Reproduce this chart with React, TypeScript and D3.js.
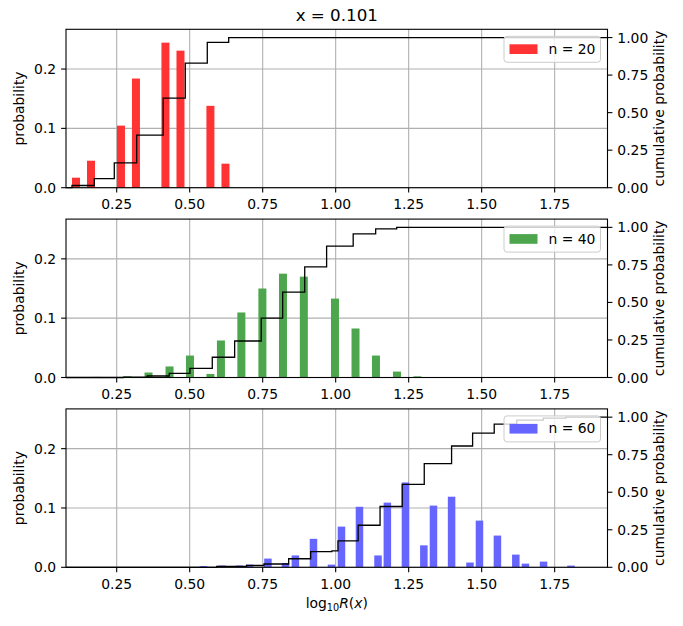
import React, { useEffect, useRef } from 'react';
import * as d3 from 'd3';

// bar centres (log10 R) and probabilities
const barX20 = [0.1106, 0.162, 0.2647, 0.316, 0.417, 0.4685, 0.571, 0.6226];
const barP20 = [0.0169, 0.0455, 0.1046, 0.184, 0.2445, 0.231, 0.138, 0.0405];

const barX40 = [0.184, 0.287, 0.359, 0.431, 0.501, 0.571, 0.607, 0.677, 0.749, 0.8195, 0.891, 0.9976, 1.068, 1.138, 1.21, 1.28];
const barP40 = [0.001, 0.002, 0.0084, 0.0186, 0.037, 0.006, 0.0624, 0.1096, 0.15, 0.175, 0.17, 0.133, 0.0826, 0.037, 0.01, 0.002];

const barX60 = [0.547, 0.6106, 0.6705, 0.7048, 0.768, 0.828, 0.862, 0.924, 0.9856, 1.0199, 1.0815, 1.145, 1.177, 1.239, 1.302, 1.335, 1.397, 1.46, 1.4925, 1.554, 1.617, 1.65, 1.712, 1.806];
const barP60 = [0.002, 0.003, 0.003, 0.0045, 0.0147, 0.0073, 0.02, 0.048, 0.0045, 0.0686, 0.102, 0.02, 0.109, 0.143, 0.037, 0.104, 0.119, 0.008, 0.0787, 0.0535, 0.0214, 0.0062, 0.0096, 0.0029];

// cumulative step edges and the level reached after each edge
const cumX20 = [0.0969, 0.1733, 0.2418, 0.3185, 0.4093, 0.4849, 0.5603, 0.6336];
const cumP20 = [0.0147, 0.061, 0.165, 0.35, 0.597, 0.83, 0.968, 1.0];

const cumX40 = [0.2726, 0.3548, 0.43, 0.501, 0.5774, 0.654, 0.745, 0.8185, 0.894, 0.969, 1.06, 1.137, 1.209];
const cumP40 = [0.003, 0.01, 0.028, 0.061, 0.135, 0.243, 0.395, 0.568, 0.737, 0.875, 0.957, 0.99, 1.0];

const cumX60 = [0.5925, 0.695, 0.7545, 0.839, 0.9144, 0.987, 1.008, 1.077, 1.152, 1.228, 1.3034, 1.397, 1.469, 1.543, 1.62, 1.711, 1.788];
const cumP60 = [0.006, 0.012, 0.022, 0.057, 0.104, 0.11, 0.176, 0.28, 0.405, 0.552, 0.691, 0.808, 0.894, 0.953, 0.98, 0.993, 1.0];

const xTicks = [0.25, 0.5, 0.75, 1.0, 1.25, 1.5, 1.75];
const yTicks = [0, 0.1, 0.2];
const cumTicks = [0, 0.25, 0.5, 0.75, 1.0];
const labels = ['n = 20', 'n = 40', 'n = 60'];

const panels = [
  { bx: barX20, bp: barP20, cx: cumX20, cp: cumP20, color: '#ff3333', barW: 0.0274, label: labels[0] },
  { bx: barX40, bp: barP40, cx: cumX40, cp: cumP40, color: '#4da64d', barW: 0.0274, label: labels[1] },
  { bx: barX60, bp: barP60, cx: cumX60, cp: cumP60, color: '#6666ff', barW: 0.0257, label: labels[2] },
];

const FONT = 'DejaVu Sans, sans-serif';

export default function App() {
  const ref = useRef<SVGSVGElement>(null);

  useEffect(() => {
    if (!ref.current) return;
    const svg = d3.select(ref.current);
    svg.selectAll('*').remove();

    const left = 66;
    const right = 607.5;
    const ph = 158.4;
    const tops = [29.3, 219.1, 408.9];

    const x = d3.scaleLinear().domain([0.0764, 1.931]).range([left, right]);

    svg.append('text')
      .attr('x', (left + right) / 2)
      .attr('y', 20.7)
      .attr('text-anchor', 'middle')
      .attr('font-family', FONT)
      .attr('font-size', '16.7px')
      .text('x = 0.101');

    panels.forEach((p, i) => {
      const top = tops[i];
      const base = top + ph;
      const y = d3.scaleLinear().domain([0, 0.267]).range([base, top]);
      const yc = d3.scaleLinear().domain([0, 1.055]).range([base, top]);
      const g = svg.append('g');

      // grid
      xTicks.forEach(t => {
        g.append('line')
          .attr('x1', x(t)).attr('x2', x(t))
          .attr('y1', top).attr('y2', base)
          .attr('stroke', '#b0b0b0').attr('stroke-width', 1.1);
      });
      yTicks.forEach(t => {
        g.append('line')
          .attr('x1', left).attr('x2', right)
          .attr('y1', y(t)).attr('y2', y(t))
          .attr('stroke', '#b0b0b0').attr('stroke-width', 1.1);
      });

      // bars
      g.selectAll('rect.bar')
        .data(p.bx.map((v, k) => ({ x: v, p: p.bp[k] })))
        .enter()
        .append('rect')
        .attr('x', d => x(d.x - p.barW / 2))
        .attr('width', d => x(d.x + p.barW / 2) - x(d.x - p.barW / 2))
        .attr('y', d => y(d.p))
        .attr('height', d => base - y(d.p))
        .attr('fill', p.color);

      // cumulative step
      const pts: [number, number][] = [[x.domain()[0], 0]];
      p.cx.forEach((v, k) => pts.push([v, p.cp[k]]));
      pts.push([x.domain()[1], p.cp[p.cp.length - 1]]);
      const line = d3.line<[number, number]>()
        .x(d => x(d[0]))
        .y(d => yc(d[1]))
        .curve(d3.curveStepAfter);
      g.append('path')
        .attr('d', line(pts) || '')
        .attr('fill', 'none')
        .attr('stroke', '#000')
        .attr('stroke-width', 1.3);

      // legend
      const lw = 96.5;
      const lh = 26;
      const lx = right - 7 - lw;
      const ly = top + 7;
      g.append('rect')
        .attr('x', lx).attr('y', ly)
        .attr('width', lw).attr('height', lh)
        .attr('rx', 3)
        .attr('fill', 'white').attr('fill-opacity', 0.8)
        .attr('stroke', '#cccccc').attr('stroke-width', 1);
      g.append('rect')
        .attr('x', lx + 5.5).attr('y', ly + 8)
        .attr('width', 28).attr('height', 9.7)
        .attr('fill', p.color);
      g.append('text')
        .attr('x', lx + 44.5).attr('y', ly + 17.5)
        .attr('font-family', FONT).attr('font-size', '13.9px')
        .text(p.label);

      // spines
      g.append('rect')
        .attr('x', left).attr('y', top)
        .attr('width', right - left).attr('height', ph)
        .attr('fill', 'none').attr('stroke', '#000').attr('stroke-width', 1.1);

      // x ticks
      xTicks.forEach(t => {
        g.append('line')
          .attr('x1', x(t)).attr('x2', x(t))
          .attr('y1', base).attr('y2', base + 4.9)
          .attr('stroke', '#000').attr('stroke-width', 1.1);
        g.append('text')
          .attr('x', x(t)).attr('y', base + 21.3)
          .attr('text-anchor', 'middle')
          .attr('font-family', FONT).attr('font-size', '13.9px')
          .text(t.toFixed(2));
      });

      // left y ticks
      yTicks.forEach(t => {
        g.append('line')
          .attr('x1', left - 4.9).attr('x2', left)
          .attr('y1', y(t)).attr('y2', y(t))
          .attr('stroke', '#000').attr('stroke-width', 1.1);
        g.append('text')
          .attr('x', left - 9.8).attr('y', y(t) + 5)
          .attr('text-anchor', 'end')
          .attr('font-family', FONT).attr('font-size', '13.9px')
          .text(t.toFixed(1));
      });

      // right y ticks
      cumTicks.forEach(t => {
        g.append('line')
          .attr('x1', right).attr('x2', right + 4.9)
          .attr('y1', yc(t)).attr('y2', yc(t))
          .attr('stroke', '#000').attr('stroke-width', 1.1);
        g.append('text')
          .attr('x', right + 9.8).attr('y', yc(t) + 5)
          .attr('font-family', FONT).attr('font-size', '13.9px')
          .text(t.toFixed(2));
      });

      const mid = top + ph / 2;
      g.append('text')
        .attr('transform', `translate(23.5,${mid}) rotate(-90)`)
        .attr('text-anchor', 'middle')
        .attr('font-family', FONT).attr('font-size', '13.9px')
        .text('probability');
      g.append('text')
        .attr('transform', `translate(664,${mid}) rotate(-90)`)
        .attr('text-anchor', 'middle')
        .attr('font-family', FONT).attr('font-size', '13.9px')
        .text('cumulative probability');
    });

    // x label: log10 R(x)
    const xl = svg.append('text')
      .attr('x', (left + right) / 2)
      .attr('y', 608.3)
      .attr('text-anchor', 'middle')
      .attr('font-family', FONT)
      .attr('font-size', '13.9px');
    xl.append('tspan').text('log');
    xl.append('tspan').attr('font-size', '9.7px').attr('dy', 3).text('10');
    xl.append('tspan').attr('dy', -3).attr('font-style', 'italic').text('R');
    xl.append('tspan').text('(');
    xl.append('tspan').attr('font-style', 'italic').text('x');
    xl.append('tspan').text(')');
  }, []);

  return (
    <svg
      ref={ref}
      width={683}
      height={626}
      style={{ position: 'absolute', left: 0, top: 0, background: '#fff' }}
    />
  );
}
